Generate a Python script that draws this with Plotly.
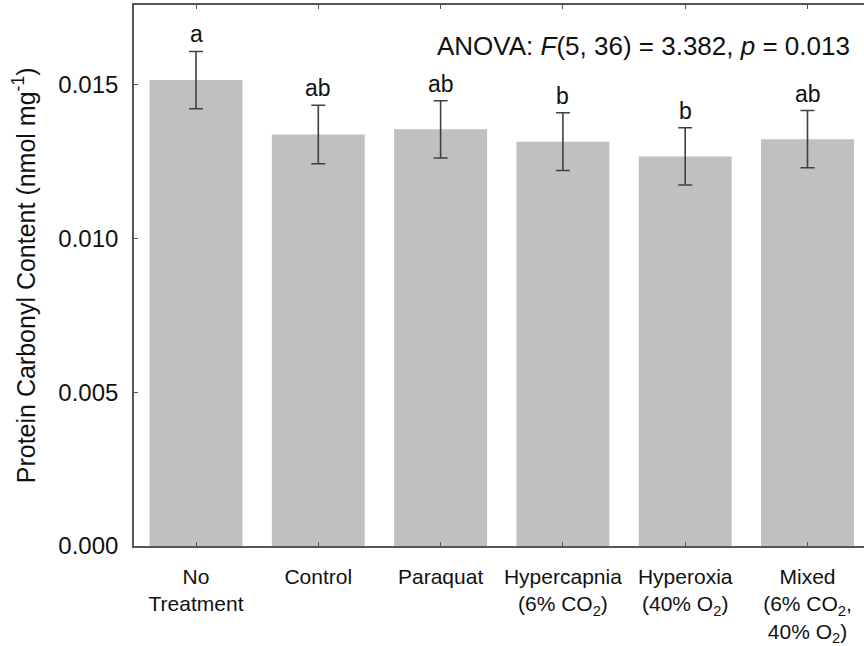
import plotly.graph_objects as go

categories = ["No<br>Treatment", "Control", "Paraquat",
              "Hypercapnia<br>(6% CO<sub>2</sub>)", "Hyperoxia<br>(40% O<sub>2</sub>)",
              "Mixed<br>(6% CO<sub>2</sub>,<br>40% O<sub>2</sub>)"]
means = [0.01514, 0.01337, 0.01354, 0.01314, 0.01266, 0.01322]
errors = [0.00093, 0.00095, 0.00093, 0.00094, 0.00093, 0.00093]
letters = ["a", "ab", "ab", "b", "b", "ab"]
anova_text = "ANOVA: <i>F</i>(5, 36) = 3.382, <i>p</i> = 0.013"
y_title = "Protein Carbonyl Content (nmol mg<sup>-1</sup>)"

FONT = "Liberation Sans, Arial, sans-serif"
AXC = "#555555"

x_idx = list(range(len(categories)))

fig = go.Figure()
fig.add_trace(go.Bar(
    x=x_idx, y=means, width=0.76,
    marker=dict(color="#c0c0c0", line=dict(width=0)),
    error_y=dict(type="data", array=errors, visible=True,
                 color="#404040", thickness=1.6, width=7),
    showlegend=False,
))

for i, (m, e, L) in enumerate(zip(means, errors, letters)):
    fig.add_annotation(x=i, y=m + e, text=L, showarrow=False,
                       yanchor="bottom", yshift=2,
                       font=dict(family=FONT, size=23, color="#111111"))

fig.add_annotation(xref="paper", yref="paper", x=0.983, y=0.925,
                   xanchor="right", yanchor="middle", text=anova_text,
                   showarrow=False,
                   font=dict(family=FONT, size=26, color="#111111"))

fig.add_annotation(xref="paper", yref="paper", x=-0.151, y=0.5,
                   xanchor="center", yanchor="middle", text=y_title,
                   textangle=-90, showarrow=False,
                   font=dict(family=FONT, size=25, color="#111111"))

fig.update_layout(
    width=864, height=646,
    margin=dict(l=134, r=0, t=5, b=96),
    plot_bgcolor="white", paper_bgcolor="white",
    font=dict(family=FONT, color="#111111"),
    bargap=0.24,
)
fig.update_xaxes(
    range=[-0.507, 5.462],
    tickmode="array", tickvals=x_idx, ticktext=categories,
    showline=True, linecolor=AXC, linewidth=1.6, mirror="ticks",
    ticks="inside", ticklen=4, tickcolor=AXC, tickwidth=1.4,
    ticklabelstandoff=11,
    tickfont=dict(family=FONT, size=21, color="#111111"),
    showgrid=False, zeroline=False,
)
fig.update_yaxes(
    range=[0, 0.01758], tick0=0, dtick=0.005, tickformat=".3f",
    showline=True, linecolor=AXC, linewidth=1.6, mirror=False,
    ticks="inside", ticklen=4, tickcolor=AXC, tickwidth=1.4,
    ticklabelstandoff=9,
    tickfont=dict(family=FONT, size=24, color="#111111"),
    showgrid=False, zeroline=False,
)

fig.write_html("out.html")
